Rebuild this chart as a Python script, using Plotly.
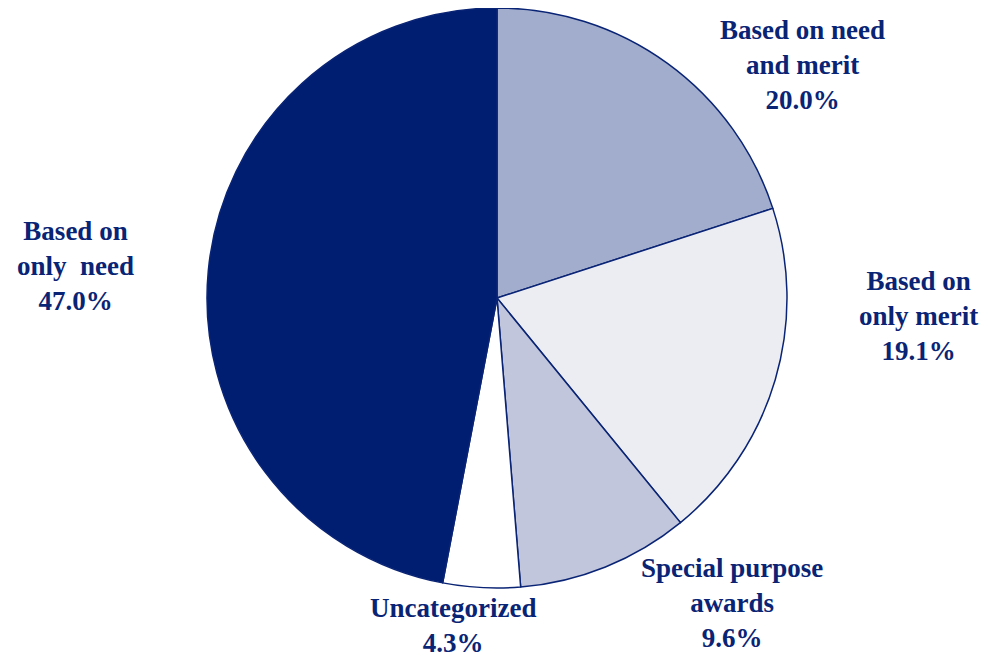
import plotly.graph_objects as go

categories = ["Based on need and merit", "Based on only merit", "Special purpose awards",
              "Uncategorized", "Based on only need"]
label_texts = ["Based on need<br>and merit", "Based on<br>only merit", "Special purpose<br>awards",
               "Uncategorized", "Based on<br>only  need"]
values = [20.0, 19.1, 9.6, 4.3, 47.0]
colors = ["#A2ADCD", "#ECEDF3", "#C1C6DC", "#FFFFFF", "#001E71"]
label_x = [802, 918, 732, 453, 75]
label_y = [65, 316, 603, 625, 266]

W, H = 988, 658
off = 8  # page body margin
cx, cy, r = 497 - off, 298 - off, 290

fig = go.Figure(go.Pie(
    labels=categories, values=values, sort=False, direction="clockwise", rotation=0,
    marker=dict(colors=colors, line=dict(color="#0A2475", width=1.5)),
    textinfo="none", hoverinfo="label+percent", showlegend=False,
    domain=dict(x=[(cx - r) / W, (cx + r) / W],
                y=[max(0, 1 - (cy + r) / H), min(1, 1 - (cy - r) / H)]),
))

for t, v, x, y in zip(label_texts, values, label_x, label_y):
    fig.add_annotation(
        x=(x - off) / W, y=1 - (y - off) / H, xref="paper", yref="paper", showarrow=False,
        text=f"<b>{t}<br>{v:.1f}%</b>", align="center", xanchor="center", yanchor="middle",
        font=dict(family="Liberation Serif, Times New Roman, serif", size=27, color="#0A2475"),
    )

fig.update_layout(width=W, height=H, margin=dict(l=0, r=0, t=0, b=0),
                  paper_bgcolor="white", plot_bgcolor="white")
fig.write_html("out.html")
